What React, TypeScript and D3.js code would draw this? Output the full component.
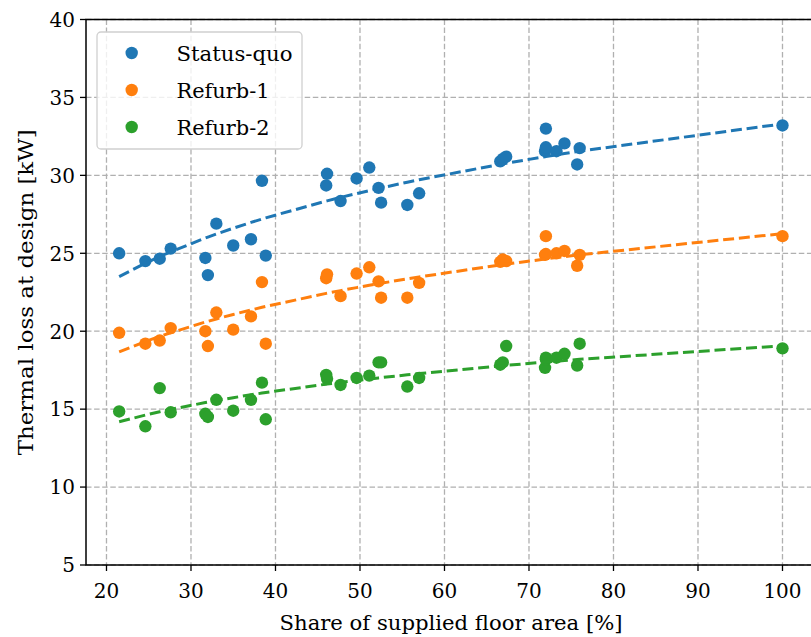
import React from "react";
import * as d3 from "d3";

// Share of supplied floor area [%] for each building configuration
const shares = [
  21.5, 24.6, 26.3, 27.6, 31.7, 32.0, 33.0, 35.0, 37.1, 38.4, 38.85,
  46.0, 46.1, 47.7, 49.6, 51.1, 52.2, 52.5, 55.6, 57.0,
  66.6, 66.9, 67.3, 71.9, 72.0, 72.0, 73.25, 74.2, 75.7, 76.0, 100,
];

// Thermal loss at design [kW]
const statusQuo = [
  25.0, 24.5, 24.65, 25.3, 24.7, 23.6, 26.9, 25.5, 25.9, 29.65, 24.85,
  29.35, 30.1, 28.35, 29.8, 30.5, 29.2, 28.25, 28.1, 28.85,
  30.9, 31.05, 31.2, 31.55, 33.0, 31.8, 31.55, 32.05, 30.7, 31.75, 33.2,
];
const refurb1 = [
  19.9, 19.2, 19.4, 20.2, 20.0, 19.05, 21.2, 20.1, 20.95, 23.15, 19.2,
  23.4, 23.65, 22.25, 23.7, 24.1, 23.2, 22.15, 22.15, 23.1,
  24.45, 24.6, 24.5, 24.9, 26.1, 24.95, 25.0, 25.15, 24.2, 24.9, 26.1,
];
const refurb2 = [
  14.85, 13.9, 16.35, 14.8, 14.7, 14.5, 15.6, 14.9, 15.6, 16.7, 14.35,
  17.2, 16.95, 16.55, 17.0, 17.15, 18.0, 18.0, 16.45, 17.0,
  17.85, 18.0, 19.05, 17.65, 18.3, 18.2, 18.3, 18.55, 17.8, 19.2, 18.9,
];

// Logarithmic trend per series: loss = intercept + slope * ln(share)
const trendIntercept = [3.94, 3.52, 4.47];
const trendSlope = [6.376, 4.938, 3.169];

const seriesNames = ["Status-quo", "Refurb-1", "Refurb-2"];
const seriesValues = [statusQuo, refurb1, refurb2];
const seriesColors = ["#1f77b4", "#ff7f0e", "#2ca02c"];

const xTicks = [20, 30, 40, 50, 60, 70, 80, 90, 100];
const yTicks = [5, 10, 15, 20, 25, 30, 35, 40];

const W = 811;
const H = 637;
const FONT = "'DejaVu Serif', serif";

export default function App() {
  const left = 86;
  const top = 19.5;
  const bottom = 565;
  const xMin = 17.575;
  const xMax = 103.925;
  const x = d3.scaleLinear().domain([xMin, xMax]).range([left, left + (xMax - xMin) * 8.45]);
  const y = d3.scaleLinear().domain([5, 40]).range([bottom, top]);
  const right = x(xMax);

  const sortedX = Array.from(new Set(shares)).sort((a, b) => a - b);
  const line = d3
    .line<[number, number]>()
    .x((d) => x(d[0]))
    .y((d) => y(d[1]));

  const txt = { fontFamily: FONT };

  return (
    <svg
      width={W}
      height={H}
      style={{ position: "absolute", left: 0, top: 0, background: "#fff", fontFamily: FONT }}
    >
      <rect x={0} y={0} width={W} height={H} fill="#fff" />

      {/* grid */}
      <g stroke="#b0b0b0" strokeWidth={1.3} strokeDasharray="5.5,2.6">
        {xTicks.map((t) => (
          <line key={"gx" + t} x1={x(t)} x2={x(t)} y1={top} y2={bottom} />
        ))}
        {yTicks.map((t) => (
          <line key={"gy" + t} x1={left} x2={right} y1={y(t)} y2={y(t)} />
        ))}
      </g>

      {/* series: scatter then trend */}
      {seriesValues.map((vals, si) => {
        const f = (v: number) => trendIntercept[si] + trendSlope[si] * Math.log(v);
        const pts: [number, number][] = sortedX.map((v) => [v, f(v)]);
        return (
          <g key={seriesNames[si]}>
            {vals.map((v, i) => (
              <circle key={i} cx={x(shares[i])} cy={y(v)} r={6.2} fill={seriesColors[si]} />
            ))}
            <path
              d={line(pts) || ""}
              fill="none"
              stroke={seriesColors[si]}
              strokeWidth={3}
              strokeDasharray="11,4.8"
            />
          </g>
        );
      })}

      {/* frame */}
      <rect
        x={left}
        y={top}
        width={right - left}
        height={bottom - top}
        fill="none"
        stroke="#000"
        strokeWidth={1.5}
      />

      {/* ticks */}
      <g fontSize={20} fill="#000">
        {xTicks.map((t) => (
          <g key={"tx" + t}>
            <line x1={x(t)} x2={x(t)} y1={bottom} y2={bottom + 6} stroke="#000" strokeWidth={1.3} />
            <text x={x(t)} y={598} textAnchor="middle" style={txt}>
              {t}
            </text>
          </g>
        ))}
        {yTicks.map((t) => (
          <g key={"ty" + t}>
            <line x1={left - 6} x2={left} y1={y(t)} y2={y(t)} stroke="#000" strokeWidth={1.3} />
            <text x={75} y={y(t) + 7.3} textAnchor="end" style={txt}>
              {t}
            </text>
          </g>
        ))}
      </g>

      {/* axis titles */}
      <text
        x={451}
        y={630}
        textAnchor="middle"
        fontSize={21}
        textLength={343}
        lengthAdjust="spacingAndGlyphs"
        style={txt}
      >
        Share of supplied floor area [%]
      </text>
      <text
        transform={`translate(33, ${(top + bottom) / 2}) rotate(-90)`}
        textAnchor="middle"
        fontSize={21}
        textLength={326}
        lengthAdjust="spacingAndGlyphs"
        style={txt}
      >
        Thermal loss at design [kW]
      </text>

      {/* legend */}
      <g>
        <rect
          x={97}
          y={32}
          width={205}
          height={117}
          rx={4}
          fill="#fff"
          fillOpacity={0.8}
          stroke="#d0d0d0"
          strokeWidth={1.3}
        />
        {seriesNames.map((name, i) => {
          const cy = 53 + i * 37;
          return (
            <g key={name}>
              <circle cx={131.7} cy={cy} r={6.2} fill={seriesColors[i]} />
              <text
                x={176.5}
                y={cy + 7.5}
                fontSize={21}
                textLength={i === 0 ? 116 : 93}
                lengthAdjust="spacingAndGlyphs"
                style={txt}
              >
                {name}
              </text>
            </g>
          );
        })}
      </g>
    </svg>
  );
}
